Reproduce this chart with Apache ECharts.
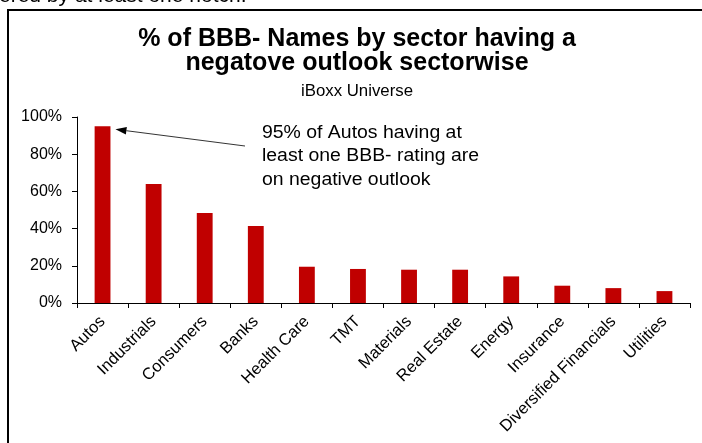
<!DOCTYPE html>
<html>
<head>
<meta charset="utf-8">
<script src="https://cdn.jsdelivr.net/npm/echarts@6/dist/echarts.min.js"></script>
<style>
html,body{margin:0;padding:0;background:#fff;}
#chart{width:702px;height:443px;}
</style>
</head>
<body>
<div id="chart"></div>
<script>
var categories = ['Autos','Industrials','Consumers','Banks','Health Care','TMT','Materials','Real Estate','Energy','Insurance','Diversified Financials','Utilities'];
var values = [95, 64, 48.4, 41.4, 19.5, 18.3, 17.9, 17.9, 14.3, 9.3, 8, 6.4];
var yTicks = [0, 20, 40, 60, 80, 100];
var titleLines = ['% of BBB- Names by sector having a', 'negatove outlook sectorwise'];
var subTitle = 'iBoxx Universe';
var noteLines = ['95% of Autos having at', 'least one BBB- rating are', 'on negative outlook'];
var headerFragment = 'ered by at least one notch.';

var FONT = "'Liberation Sans', Arial, sans-serif";
var chart = echarts.init(document.getElementById('chart'), null, {renderer: 'canvas'});

var option = {
  animation: false,
  backgroundColor: '#ffffff',
  grid: {left: 77, right: 12, top: 117, bottom: 140, containLabel: false},
  xAxis: {
    type: 'category',
    data: categories,
    axisLine: {lineStyle: {color: '#000', width: 1}},
    axisTick: {show: true, alignWithLabel: false, length: 5, lineStyle: {color: '#000'}},
    axisLabel: {rotate: 45, interval: 0, fontFamily: FONT, fontSize: 16.5, color: '#000', margin: 16}
  },
  yAxis: {
    type: 'value',
    min: 0, max: 100, interval: 20,
    axisLine: {show: true, lineStyle: {color: '#000', width: 1}},
    axisTick: {show: true, length: 5, lineStyle: {color: '#000'}},
    splitLine: {show: false},
    axisLabel: {fontFamily: FONT, fontSize: 16, color: '#000', margin: 15,
      formatter: function (v) { return yTicks.indexOf(v) >= 0 ? v + '%' : ''; }}
  },
  series: [{
    type: 'bar',
    data: values,
    barWidth: '31%',
    itemStyle: {color: '#C00000'}
  }]
};
chart.setOption(option);

// annotation arrow, anchored to the Autos bar top via the chart's scales
var top0 = chart.convertToPixel({seriesIndex: 0}, [0, values[0]]);
var band = chart.convertToPixel({xAxisIndex: 0}, 1) - chart.convertToPixel({xAxisIndex: 0}, 0);
var tip = [top0[0] + band * 0.31 / 2 + 5, top0[1] + 3];
var tail = [245, 146];
var dx = tip[0] - tail[0], dy = tip[1] - tail[1];
var len = Math.sqrt(dx * dx + dy * dy);
var ux = dx / len, uy = dy / len;
var hl = 11, hw = 3.8;
var base = [tip[0] - ux * hl, tip[1] - uy * hl];
var head = [tip, [base[0] - uy * hw, base[1] + ux * hw], [base[0] + uy * hw, base[1] - ux * hw]];

var g = [
  {type: 'rect', shape: {x: 7, y: 9, width: 695, height: 2}, style: {fill: '#000'}, silent: true},
  {type: 'rect', shape: {x: 7, y: 9, width: 2, height: 434}, style: {fill: '#000'}, silent: true},
  {type: 'text', x: -1, y: -4, style: {text: headerFragment, font: '21px ' + FONT, fill: '#000', verticalAlign: 'middle'}},
  {type: 'text', x: 357, y: 39.3, style: {text: titleLines[0], font: 'bold 25px ' + FONT, fill: '#000', align: 'center', verticalAlign: 'middle'}},
  {type: 'text', x: 357, y: 63, style: {text: titleLines[1], font: 'bold 25px ' + FONT, fill: '#000', align: 'center', verticalAlign: 'middle'}},
  {type: 'text', x: 357, y: 92, scaleX: 1.05, style: {text: subTitle, font: '16px ' + FONT, fill: '#000', align: 'center', verticalAlign: 'middle'}},
  {type: 'line', shape: {x1: tail[0], y1: tail[1], x2: base[0], y2: base[1]}, style: {stroke: '#000', lineWidth: 0.8}},
  {type: 'polygon', shape: {points: head}, style: {fill: '#000'}}
];
noteLines.forEach(function (t, i) {
  g.push({type: 'text', x: 262, y: 133 + i * 23.5, scaleX: 1.11,
    style: {text: t, font: '17.5px ' + FONT, fill: '#000', verticalAlign: 'middle'}});
});
chart.setOption({graphic: g});
</script>
</body>
</html>
